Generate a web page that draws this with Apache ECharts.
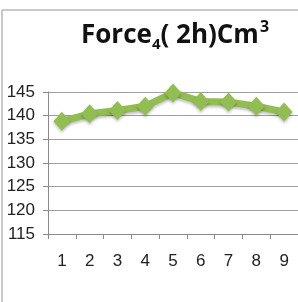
<!DOCTYPE html>
<html>
<head>
<meta charset="utf-8">
<script src="https://cdn.jsdelivr.net/npm/echarts@6/dist/echarts.min.js"></script>
<style>
  html, body { margin: 0; padding: 0; background: #fff; }
  #chart { width: 298px; height: 302px; }
</style>
</head>
<body>
<div id="chart"></div>
<script>
// values
const categories = ['1', '2', '3', '4', '5', '6', '7', '8', '9']
const forceValues = [138.8, 140.4, 141.1, 142, 144.8, 143, 142.9, 142, 140.8]
const yMin = 115
const yMax = 145
const yStep = 5

const GREEN = '#91bd52'
const FONT = 'Liberation Sans, Arial, sans-serif'
const TITLE_FONT = 'Open Sans, sans-serif'

const chart = echarts.init(document.getElementById('chart'))

chart.setOption({
  animation: false,
  backgroundColor: '#fff',
  title: {
    text: '{b|Force}{sub|4}{b|( 2h)Cm}{sup|3}',
    left: 170,
    top: 14,
    textAlign: 'center',
    textStyle: {
      rich: {
        b: { fontSize: 26, fontWeight: 'bold', color: '#111', fontFamily: TITLE_FONT, lineHeight: 30, verticalAlign: 'bottom' },
        sub: { fontSize: 15, fontWeight: 'bold', color: '#111', fontFamily: TITLE_FONT, lineHeight: 30, verticalAlign: 'bottom', padding: [0, 0, -3, 0] },
        sup: { fontSize: 16, fontWeight: 'bold', color: '#111', fontFamily: TITLE_FONT, lineHeight: 30, verticalAlign: 'top', padding: [0, 0, 0, 1] }
      }
    }
  },
  graphic: [
    { type: 'line', shape: { x1: 2, y1: 10, x2: 298, y2: 10 }, style: { stroke: '#b8b8b8', lineWidth: 1.5 } },
    { type: 'line', shape: { x1: 2, y1: 10, x2: 2, y2: 302 }, style: { stroke: '#b8b8b8', lineWidth: 1.5 } }
  ],
  grid: { left: 48, right: 0, top: 92, bottom: 68 },
  xAxis: {
    type: 'category',
    data: categories,
    boundaryGap: true,
    axisLine: { lineStyle: { color: '#8a8a8a', width: 1 } },
    axisTick: { show: true, length: 5, lineStyle: { color: '#8a8a8a' } },
    axisLabel: { color: '#222', fontSize: 17, fontFamily: FONT, margin: 19 }
  },
  yAxis: {
    type: 'value',
    min: yMin,
    max: yMax,
    interval: yStep,
    axisLine: { show: true, lineStyle: { color: '#8a8a8a', width: 1 } },
    axisTick: { show: true, length: 5, lineStyle: { color: '#8a8a8a' } },
    axisLabel: { color: '#222', fontSize: 17, fontFamily: FONT, margin: 13 },
    splitLine: { lineStyle: { color: '#a0a0a0', width: 1 } }
  },
  series: [{
    type: 'line',
    data: forceValues,
    symbol: 'diamond',
    symbolSize: [17, 19],
    lineStyle: { color: GREEN, width: 7, shadowColor: 'rgba(0,0,0,0.25)', shadowBlur: 3, shadowOffsetY: 2 },
    itemStyle: { color: GREEN, shadowColor: 'rgba(0,0,0,0.25)', shadowBlur: 3, shadowOffsetY: 2 }
  }]
})
</script>
</body>
</html>
